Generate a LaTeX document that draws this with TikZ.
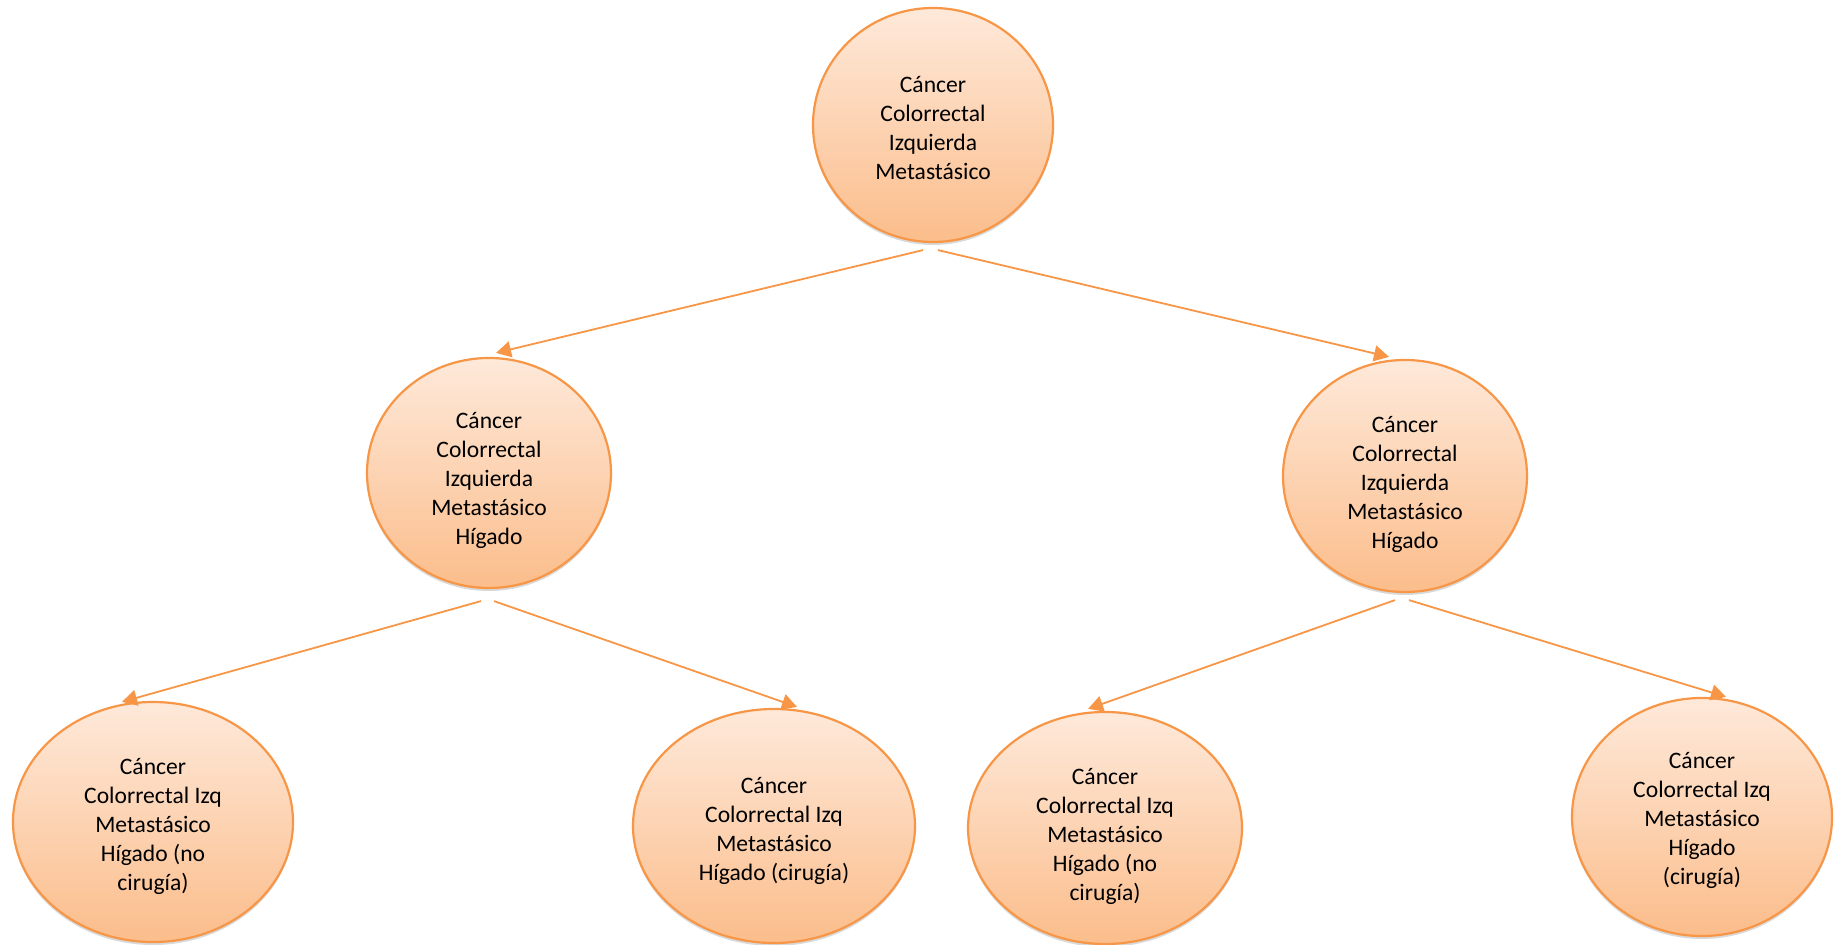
\documentclass[tikz,border=0pt]{standalone}
\usepackage{fontspec}
\setmainfont{Carlito}
\usetikzlibrary{shapes.geometric,arrows.meta,shadows}
\definecolor{edgeor}{HTML}{F79646}
\definecolor{topfill}{HTML}{FEE9DA}
\definecolor{botfill}{HTML}{FBBD8B}
\tikzset{
  bubble/.style={ellipse, draw=edgeor, line width=1.1pt, top color=topfill, bottom color=botfill,
    inner sep=0pt,
    drop shadow={shadow xshift=0pt, shadow yshift=-1.5pt, opacity=0.25, fill=black!60}},
  txt/.style={align=center, inner sep=0pt, font=\fontsize{11.8}{14.5}\selectfont},
  arr/.style={draw=edgeor, line width=0.9pt, -{Triangle[length=7.5pt,width=8pt]}}
}
\begin{document}
\begin{tikzpicture}[x=0.5pt,y=-0.5pt]
\path[use as bounding box] (0,0) rectangle (1834,945);
\node[bubble, minimum width=120pt, minimum height=117pt,
  label={[txt,yshift=-1.5pt]center:{Cáncer\\Colorrectal\\Izquierda\\Metastásico}}] (top) at (933,125) {};
\node[bubble, minimum width=122pt, minimum height=115pt,
  label={[txt,yshift=-3.5pt]center:{Cáncer\\Colorrectal\\Izquierda\\Metastásico\\Hígado}}] (ml) at (489,473) {};
\node[bubble, minimum width=122pt, minimum height=116pt,
  label={[txt,yshift=-4pt]center:{Cáncer\\Colorrectal\\Izquierda\\Metastásico\\Hígado}}] (mr) at (1405,476) {};
\node[bubble, minimum width=140pt, minimum height=120pt,
  label={[txt,yshift=-2pt]center:{Cáncer\\Colorrectal Izq\\Metastásico\\Hígado (no\\cirugía)}}] (b1) at (153,822) {};
\node[bubble, minimum width=141pt, minimum height=117pt,
  label={[txt,yshift=-2.5pt]center:{Cáncer\\Colorrectal Izq\\Metastásico\\Hígado (cirugía)}}] (b2) at (774,826) {};
\node[bubble, minimum width=137pt, minimum height=116pt,
  label={[txt,yshift=-4pt]center:{Cáncer\\Colorrectal Izq\\Metastásico\\Hígado (no\\cirugía)}}] (b3) at (1105,828) {};
\node[bubble, minimum width=130pt, minimum height=119pt,
  label={[txt,yshift=-1.5pt]center:{Cáncer\\Colorrectal Izq\\Metastásico\\Hígado\\(cirugía)}}] (b4) at (1702,817) {};
\draw[arr] ([xshift=-5pt,yshift=-3.5pt]top.south) -- ([xshift=3.5pt,yshift=2pt]ml.north);
\draw[arr] ([xshift=2.5pt,yshift=-3.5pt]top.south) -- ([xshift=-8pt,yshift=1pt]mr.north);
\draw[arr] ([xshift=-4pt,yshift=-6pt]ml.south) -- ([xshift=-15.5pt,yshift=-0.5pt]b1.north);
\draw[arr] ([xshift=2.5pt,yshift=-6pt]ml.south) -- ([xshift=11.5pt,yshift=0.5pt]b2.north);
\draw[arr] ([xshift=-5pt,yshift=-3.5pt]mr.south) -- ([xshift=-8.5pt,yshift=1pt]b3.north);
\draw[arr] ([xshift=2pt,yshift=-3.5pt]mr.south) -- ([xshift=12pt,yshift=0pt]b4.north);
\end{tikzpicture}
\end{document}
